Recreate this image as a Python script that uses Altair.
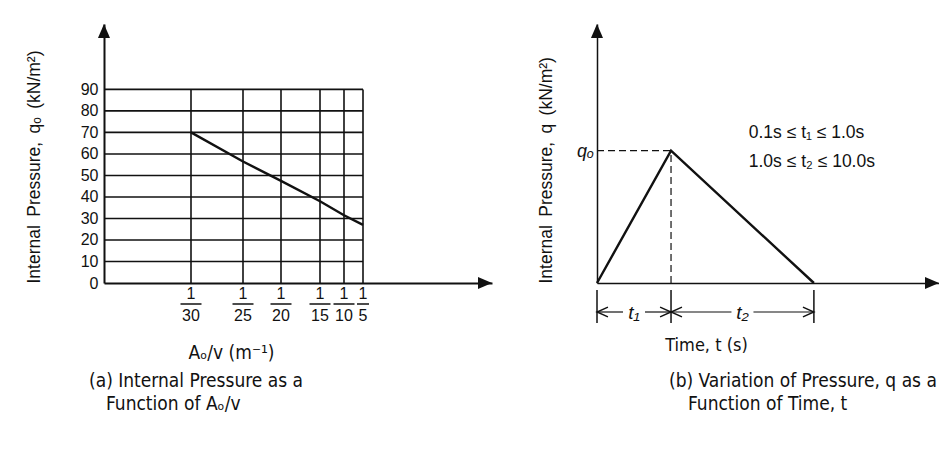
import altair as alt
import pandas as pd

# ---------------- data ----------------
# Panel (a): internal pressure vs Ao/v (schematic, non-uniform axis)
a_num = ["1", "1", "1", "1", "1", "1"]
a_den = ["30", "25", "20", "15", "10", "5"]
a_pos = [87, 139, 177, 216, 240, 259]          # position of each fraction along the axis
a_q = [70, 56.5, 47.5, 38, 31.5, 27]           # q_o (kN/m2)
a_grid = [10, 20, 30, 40, 50, 60, 70, 80, 90]
a_yticks = [0, 10, 20, 30, 40, 50, 60, 70, 80, 90]
a_xmax = 388
a_ymax = 120.4
a_caption = ["(a) Internal Pressure as a", "Function of A\u2092/v"]

# Panel (b): pressure pulse vs time (schematic units, q normalised by q_o)
b_t = [0.0, 1.0, 2.93]      # 0, t1, t1 + t2
b_q = [0.0, 1.0, 0.0]
b_dim_labels = ["t\u2081", "t\u2082"]
b_notes = ["0.1s \u2264 t\u2081 \u2264 1.0s", "1.0s \u2264 t\u2082 \u2264 10.0s"]
b_note_t = [2.05, 2.05]
b_note_q = [1.134, 0.915]
b_xmax = 4.62
b_ymax = 1.958
b_caption = ["(b) Variation of Pressure, q as a", "Function of Time, t"]

FONT = "Liberation Sans, Arial, Helvetica, sans-serif"
NARROW = "Liberation Sans Narrow, DejaVu Sans Condensed, Arial Narrow, sans-serif"
INK = "#111111"
GAP = " \u2009"

UP = "M0,0L-0.43,1L0.43,1Z"
RIGHT = "M0,0L-1,-0.43L-1,0.43Z"
CHEV_L = "M1,-0.45L0,0L1,0.45"
CHEV_R = "M-1,-0.45L0,0L-1,0.45"

W_A, H = 388, 259
W_B = 342

# ---------------- panel (a) ----------------
ax_a_x = alt.Axis(labels=False, ticks=False, grid=False, domain=True,
                  domainColor=INK, domainWidth=2,
                  title="A\u2092/v (m\u207b\u00b9)", titleX=127, titleY=69,
                  titleAlign="center", titleBaseline="middle",
                  titleFont=NARROW, titleFontSize=19, titleFontWeight="normal",
                  titleColor=INK)
ax_a_y = alt.Axis(values=a_yticks, labels=True, ticks=False, grid=False,
                  domain=True, domainColor=INK, domainWidth=2,
                  labelFont=FONT, labelFontSize=16, labelColor=INK, labelPadding=6,
                  title="Internal" + GAP + "Pressure," + GAP + "q\u2092" + GAP + "(kN/m\u00b2)",
                  titleAngle=270, titleX=-70, titleY=H, titleAlign="left",
                  titleBaseline="middle", titleFont=FONT, titleFontSize=17.5,
                  titleFontWeight="normal", titleColor=INK)
sx_a = alt.Scale(domain=[0, a_xmax], nice=False, zero=False)
sy_a = alt.Scale(domain=[0, a_ymax], nice=False, zero=False)


def xa(f):
    return alt.X(f, type="quantitative", scale=sx_a, axis=ax_a_x)


def ya(f):
    return alt.Y(f, type="quantitative", scale=sy_a, axis=ax_a_y)


df_h = pd.DataFrame({"y": a_grid, "x": 0, "x2": max(a_pos)})
df_v = pd.DataFrame({"x": a_pos, "y": 0, "y2": max(a_grid)})
df_a = pd.DataFrame({"x": a_pos, "q": a_q, "num": a_num, "den": a_den, "y": 0,
                     "w": [9 * len(d) + 3 for d in a_den]})
df_up_a = pd.DataFrame({"x": [0], "y": [a_ymax]})
df_rt_a = pd.DataFrame({"x": [a_xmax], "y": [0]})
df_cap_a = pd.DataFrame({"x": [0], "y": [0], "l1": [a_caption[0]], "l2": [a_caption[1]]})

hgrid = alt.Chart(df_h).mark_rule(color=INK, strokeWidth=1.6).encode(
    x=xa("x"), x2="x2", y=ya("y"))
vgrid = alt.Chart(df_v).mark_rule(color=INK, strokeWidth=1.6).encode(
    x=xa("x"), y=ya("y"), y2="y2")
line_a = alt.Chart(df_a).mark_line(color=INK, strokeWidth=2.4).encode(
    x=xa("x"), y=ya("q"))
num = alt.Chart(df_a).mark_text(font=FONT, fontSize=16, color=INK, dy=11,
                                baseline="middle").encode(
    x=xa("x"), y=ya("y"), text="num")
bar = alt.Chart(df_a).mark_tick(orient="horizontal", thickness=1.5, color=INK,
                                yOffset=21, opacity=1).encode(
    x=xa("x"), y=ya("y"), size=alt.Size("w:Q", scale=None, legend=None))
den = alt.Chart(df_a).mark_text(font=FONT, fontSize=16, color=INK, dy=33,
                                baseline="middle").encode(
    x=xa("x"), y=ya("y"), text="den")
up_a = alt.Chart(df_up_a).mark_point(shape=UP, filled=True, size=784, color=INK,
                                     opacity=1, strokeWidth=0).encode(
    x=xa("x"), y=ya("y"))
rt_a = alt.Chart(df_rt_a).mark_point(shape=RIGHT, filled=True, size=784, color=INK,
                                     opacity=1, strokeWidth=0).encode(
    x=xa("x"), y=ya("y"))
cap_a1 = alt.Chart(df_cap_a).mark_text(font=NARROW, fontSize=19, color=INK, align="left",
                                       baseline="middle", dx=-15, dy=98).encode(
    x=xa("x"), y=ya("y"), text="l1")
cap_a2 = alt.Chart(df_cap_a).mark_text(font=NARROW, fontSize=19, color=INK, align="left",
                                       baseline="middle", dx=2, dy=121).encode(
    x=xa("x"), y=ya("y"), text="l2")

panel_a = alt.layer(hgrid, vgrid, line_a, num, bar, den, up_a, rt_a,
                    cap_a1, cap_a2).properties(width=W_A, height=H)

# ---------------- panel (b) ----------------
ax_b_x = alt.Axis(labels=False, ticks=False, grid=False, domain=True,
                  domainColor=INK, domainWidth=1.5,
                  title="Time, t (s)", titleX=109, titleY=62,
                  titleAlign="center", titleBaseline="middle",
                  titleFont=NARROW, titleFontSize=18, titleFontWeight="normal",
                  titleColor=INK)
ax_b_y = alt.Axis(labels=False, ticks=False, grid=False, domain=True,
                  domainColor=INK, domainWidth=1.5,
                  title="Internal" + GAP + "Pressure," + GAP + "q" + GAP + "(kN/m\u00b2)",
                  titleAngle=270, titleX=-51, titleY=H, titleAlign="left",
                  titleBaseline="middle", titleFont=FONT, titleFontSize=17.5,
                  titleFontWeight="normal", titleColor=INK)
sx_b = alt.Scale(domain=[0, b_xmax], nice=False, zero=False)
sy_b = alt.Scale(domain=[0, b_ymax], nice=False, zero=False)


def xb(f):
    return alt.X(f, type="quantitative", scale=sx_b, axis=ax_b_x)


def yb(f):
    return alt.Y(f, type="quantitative", scale=sy_b, axis=ax_b_y)


t1 = b_t[1]
q0 = b_q[1]
df_tri = pd.DataFrame({"t": b_t, "q": b_q})
df_dash = pd.DataFrame({"x": [0, t1], "x2": [t1, t1], "y": [q0, 0], "y2": [q0, q0]})
df_ext = pd.DataFrame({"x": b_t, "y": 0})
starts = b_t[:-1]
ends = b_t[1:]
mids = [(s + e) / 2 for s, e in zip(starts, ends)]
df_dim = pd.DataFrame({"s": starts, "e": ends, "m": mids, "y": 0, "lab": b_dim_labels})
df_note = pd.DataFrame({"x": b_note_t, "y": b_note_q, "txt": b_notes})
df_q0 = pd.DataFrame({"x": [0], "y": [q0], "txt": ["q\u2092"]})
df_up_b = pd.DataFrame({"x": [0], "y": [b_ymax]})
df_rt_b = pd.DataFrame({"x": [b_xmax], "y": [0]})
df_cap_b = pd.DataFrame({"x": [0], "y": [0], "l1": [b_caption[0]], "l2": [b_caption[1]]})

tri = alt.Chart(df_tri).mark_line(color=INK, strokeWidth=2.4).encode(
    x=xb("t"), y=yb("q"))
dash = alt.Chart(df_dash).mark_rule(color=INK, strokeWidth=1.2, strokeDash=[7, 4]).encode(
    x=xb("x"), x2="x2", y=yb("y"), y2="y2")
ext = alt.Chart(df_ext).mark_rule(color=INK, strokeWidth=1.5, yOffset=7, y2Offset=40).encode(
    x=xb("x"), y=yb("y"), y2="y")
seg_l = alt.Chart(df_dim).mark_rule(color=INK, strokeWidth=1.2, yOffset=29,
                                    x2Offset=-11).encode(
    x=xb("s"), x2="m", y=yb("y"))
seg_r = alt.Chart(df_dim).mark_rule(color=INK, strokeWidth=1.2, yOffset=29,
                                    xOffset=11).encode(
    x=xb("m"), x2="e", y=yb("y"))
chev_l = alt.Chart(df_dim).mark_point(shape=CHEV_L, filled=False, size=480, color=INK,
                                      strokeWidth=1.4, opacity=1, yOffset=29).encode(
    x=xb("s"), y=yb("y"))
chev_r = alt.Chart(df_dim).mark_point(shape=CHEV_R, filled=False, size=480, color=INK,
                                      strokeWidth=1.4, opacity=1, yOffset=29).encode(
    x=xb("e"), y=yb("y"))
dim_lab = alt.Chart(df_dim).mark_text(font=FONT, fontSize=19, fontStyle="italic",
                                      color=INK, dy=30, baseline="middle").encode(
    x=xb("m"), y=yb("y"), text="lab")
notes = alt.Chart(df_note).mark_text(font=FONT, fontSize=17.5, color=INK, align="left",
                                     baseline="middle").encode(
    x=xb("x"), y=yb("y"), text="txt")
q0lab = alt.Chart(df_q0).mark_text(font=FONT, fontSize=18, fontStyle="italic", color=INK,
                                   align="right", baseline="middle", dx=-3, dy=1).encode(
    x=xb("x"), y=yb("y"), text="txt")
up_b = alt.Chart(df_up_b).mark_point(shape=UP, filled=True, size=784, color=INK,
                                     opacity=1, strokeWidth=0).encode(
    x=xb("x"), y=yb("y"))
rt_b = alt.Chart(df_rt_b).mark_point(shape=RIGHT, filled=True, size=784, color=INK,
                                     opacity=1, strokeWidth=0).encode(
    x=xb("x"), y=yb("y"))
cap_b1 = alt.Chart(df_cap_b).mark_text(font=NARROW, fontSize=19, color=INK, align="left",
                                       baseline="middle", dx=72, dy=98).encode(
    x=xb("x"), y=yb("y"), text="l1")
cap_b2 = alt.Chart(df_cap_b).mark_text(font=NARROW, fontSize=19, color=INK, align="left",
                                       baseline="middle", dx=91, dy=121).encode(
    x=xb("x"), y=yb("y"), text="l2")

panel_b = alt.layer(dash, tri, ext, seg_l, seg_r, chev_l, chev_r, dim_lab, notes,
                    q0lab, up_b, rt_b, cap_b1, cap_b2).properties(width=W_B, height=H)

chart = alt.hconcat(panel_a, panel_b, spacing=105, bounds="flush").properties(
    padding={"left": 16, "top": 16, "right": 0, "bottom": 5},
    background="white",
).configure_view(stroke=None)

chart.save("out.html", embed_options={"renderer": "svg", "actions": False})
